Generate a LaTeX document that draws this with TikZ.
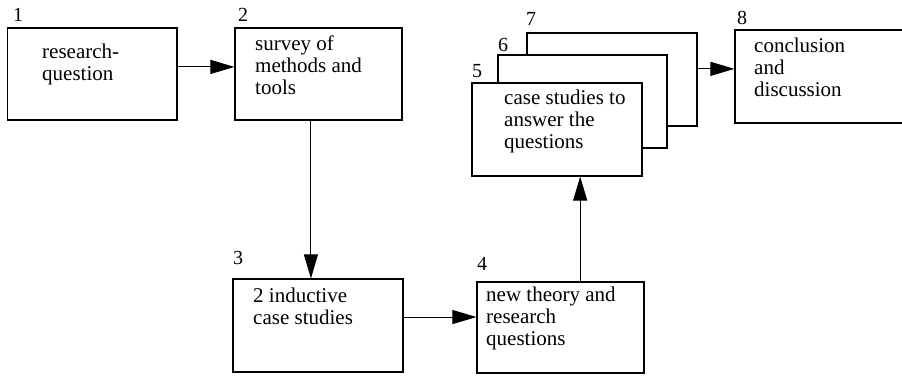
\documentclass[tikz,border=0pt]{standalone}
\usepackage{fontspec}
\setmainfont{Liberation Serif}
\usetikzlibrary{arrows.meta,calc}
\tikzset{
  box/.style={draw, line width=1.1pt, rectangle, inner sep=0pt, fill=white},
  txt/.style={anchor=north west, inner sep=0pt, align=left, font=\fontsize{21}{22}\selectfont},
  num/.style={anchor=base west, inner sep=0pt, font=\fontsize{20}{22}\selectfont},
  arr/.style={line width=0.9pt, -{Triangle[length=24pt,width=14pt]}},
}
\begin{document}
\begin{tikzpicture}[x=1pt,y=-1pt]
\useasboundingbox (0,0) rectangle (902,375);
\clip (0,0) rectangle (902,375);
% boxes
\node[box, minimum width=169.5pt, minimum height=92pt] (b1) at (92.25,74) {};
\node[box, minimum width=167pt, minimum height=92pt] (b2) at (318.5,74) {};
\node[box, minimum width=170pt, minimum height=93pt] (b3) at (318,325.5) {};
\node[box, minimum width=167pt, minimum height=91pt] (b4) at (560.5,327.5) {};
\node[box, minimum width=170pt, minimum height=93pt] (b7) at (612,79.5) {};
\node[box, minimum width=169pt, minimum height=93pt] (b6) at (582.5,101.5) {};
\node[box, minimum width=170pt, minimum height=93pt] (b5) at (557,129.5) {};
\node[box, minimum width=170pt, minimum height=93pt] (b8) at (820,76.5) {};
% numbers
\node[num] (n1) at (13,21) {1};
\node[num] (n2) at (238,21) {2};
\node[num] (n3) at (233,264) {3};
\node[num] (n4) at (477,270) {4};
\node[num] (n5) at (472,77) {5};
\node[num] (n6) at (498,51) {6};
\node[num] (n7) at (526,25) {7};
\node[num] (n8) at (737,24) {8};
% texts
\node[txt] (t1) at (42,44) {research-\\question};
\node[txt] (t2) at (255,35.5) {survey of\\methods and\\tools};
\node[txt] (t3) at (253,287.5) {2 inductive\\case studies};
\node[txt] (t4) at (486,286.5) {new theory and\\research\\questions};
\node[txt] (t5) at (504,90) {case studies to\\answer the\\questions};
\node[txt] (t8) at (754,38) {conclusion\\and\\discussion};
% connectors
\draw[arr] ($(b1.north east)!0.424!(b1.south east)$) coordinate (a1) -- (a1 -| b2.west);
\draw[arr] ($(b2.south west)!0.455!(b2.south east)$) coordinate (a2) -- (a2 |- b3.north);
\draw[arr] ($(b3.north east)!0.41!(b3.south east)$) coordinate (a3) -- (a3 -| b4.west);
\draw[arr] ($(b4.north west)!0.617!(b4.north east)$) coordinate (a4) -- (a4 |- b5.south);
\draw[arr] ($(b7.north east)!0.387!(b7.south east)$) coordinate (a7) -- (a7 -| b8.west);
\end{tikzpicture}
\end{document}
